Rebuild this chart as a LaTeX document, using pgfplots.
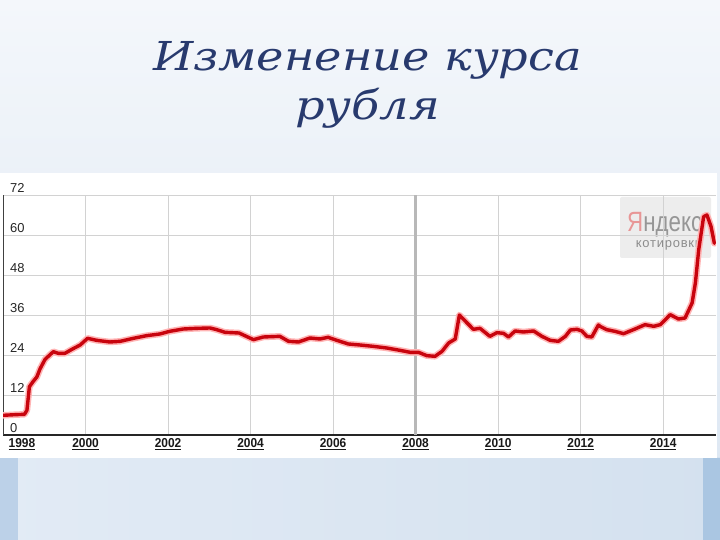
\documentclass[border=0pt]{standalone}
\usepackage{fontspec}
\setmainfont{Liberation Sans}
\newfontfamily\titlefont{DejaVu Serif}
\usepackage{pgfplots}
\usepackage{pgfplotstable}
\pgfplotsset{compat=1.18}
\definecolor{bgtop}{RGB}{244,247,251}
\definecolor{bgbot}{RGB}{222,232,243}
\definecolor{lowleft}{RGB}{226,235,245}
\definecolor{lowright}{RGB}{212,225,239}
\definecolor{stripl}{RGB}{188,209,232}
\definecolor{stripr}{RGB}{170,198,226}
\definecolor{titleblue}{RGB}{40,58,110}
\definecolor{linered}{RGB}{200,4,14}
\definecolor{halo}{RGB}{255,180,180}
\definecolor{gridgray}{RGB}{210,210,210}

\pgfplotstableread{
year value
1998.00 5.9
1998.30 6.1
1998.52 6.2
1998.58 7.4
1998.64 14.5
1998.74 16.2
1998.82 17.4
1998.90 19.9
1999.02 22.7
1999.22 25.0
1999.34 24.5
1999.50 24.5
1999.67 25.7
1999.87 27.0
2000.05 29.0
2000.27 28.4
2000.59 27.9
2000.84 28.1
2001.16 29.0
2001.48 29.8
2001.80 30.3
2002.04 31.1
2002.37 31.8
2002.70 32.0
2003.02 32.1
2003.18 31.6
2003.38 30.8
2003.72 30.6
2004.07 28.6
2004.31 29.4
2004.71 29.6
2004.92 28.1
2005.16 27.9
2005.44 29.1
2005.68 28.8
2005.88 29.3
2006.09 28.4
2006.37 27.3
2006.65 27.0
2006.97 26.6
2007.30 26.1
2007.62 25.4
2007.87 24.8
2008.07 24.8
2008.27 23.8
2008.47 23.6
2008.64 25.1
2008.80 27.6
2008.96 28.8
2009.06 36.0
2009.24 33.7
2009.40 31.7
2009.56 32.0
2009.80 29.6
2009.97 30.7
2010.13 30.5
2010.25 29.4
2010.41 31.2
2010.61 30.9
2010.86 31.2
2011.06 29.6
2011.26 28.4
2011.46 28.1
2011.63 29.6
2011.75 31.5
2011.91 31.7
2012.03 31.2
2012.15 29.6
2012.27 29.4
2012.43 33.0
2012.47 32.6
2012.63 31.6
2012.83 31.1
2013.04 30.4
2013.28 31.6
2013.56 33.1
2013.77 32.6
2013.93 33.1
2014.17 36.1
2014.37 34.8
2014.53 35.1
2014.70 39.6
2014.78 45.6
2014.86 55.5
2014.98 65.5
2015.06 66.0
2015.16 62.5
2015.24 57.5
}\ruble

\begin{document}
\begin{tikzpicture}[x=1bp,y=1bp]
\useasboundingbox (0,0) rectangle (720,540);
\shade[top color=bgtop,bottom color=bgbot] (0,82) rectangle (720,540);
\shade[left color=lowleft, right color=lowright] (0,0) rectangle (720,82);
\fill[stripl] (0,0) rectangle (18,82);
\fill[stripr] (703,0) rectangle (720,82);
% white chart panel
\fill[white] (0,82) rectangle (717,367);
% title
\node[inner sep=0, text=titleblue, font=\titlefont\itshape\fontsize{40}{40}\selectfont] at (367.5,480) {\scalebox{1.16}[1]{Изменение курса}};
\node[inner sep=0, text=titleblue, font=\titlefont\itshape\fontsize{40}{40}\selectfont] at (367.5,432) {\scalebox{1.16}[1]{рубля}};
% Yandex logo
\fill[black!7, rounded corners=2bp] (620,282) rectangle (711,343);
\node[anchor=base west, inner sep=0, font=\fontsize{28}{28}\selectfont] at (627,308) {\scalebox{0.8}[1]{\textcolor[RGB]{232,150,150}{Я}\textcolor[RGB]{150,150,150}{ндекс}}};
\node[anchor=base, inner sep=0, font=\addfontfeature{LetterSpace=6}\fontsize{13}{13}\selectfont, text=black!45] at (669,292) {котировки};
\begin{axis}[
  at={(3bp,105bp)}, anchor=south west,
  width=713bp, height=240bp, scale only axis,
  xmin=1998, xmax=2015.28, ymin=0, ymax=72,
  axis x line*=bottom, axis y line*=left,
  x axis line style={-, black!85, line width=1.5bp},
  y axis line style={-, black!75, line width=1bp},
  major tick length=0pt,
  grid=major, grid style={gridgray, line width=0.9bp},
  ytick={0,12,24,36,48,60,72},
  yticklabels={0,12,24,36,48,60,72},
  yticklabel style={anchor=south west, inner sep=1bp, xshift=6bp, yshift=1.5bp,
    font=\fontsize{13}{13}\selectfont, text=black!85},
  xtick={2000,2002,...,2014},
  xticklabels={\underline{2000},\underline{2002},\underline{2004},\underline{2006},\underline{2008},\underline{2010},\underline{2012},\underline{2014}},
  xticklabel style={font=\bfseries\fontsize{13}{13}\selectfont, text=black!90, inner sep=3bp, xscale=0.92},
  extra x ticks={1998},
  extra x tick labels={\underline{1998}},
  extra x tick style={grid=none, xticklabel style={anchor=north west, xshift=3bp}},
]
\draw[black!28, line width=2.5bp] (axis cs:2008,0) -- (axis cs:2008,72);
\addplot[halo, line width=6.5bp, line join=round, line cap=round] table[x=year,y=value] {\ruble};
\addplot[linered, line width=3.4bp, line join=round, line cap=round] table[x=year,y=value] {\ruble};
\end{axis}
\end{tikzpicture}
\end{document}
